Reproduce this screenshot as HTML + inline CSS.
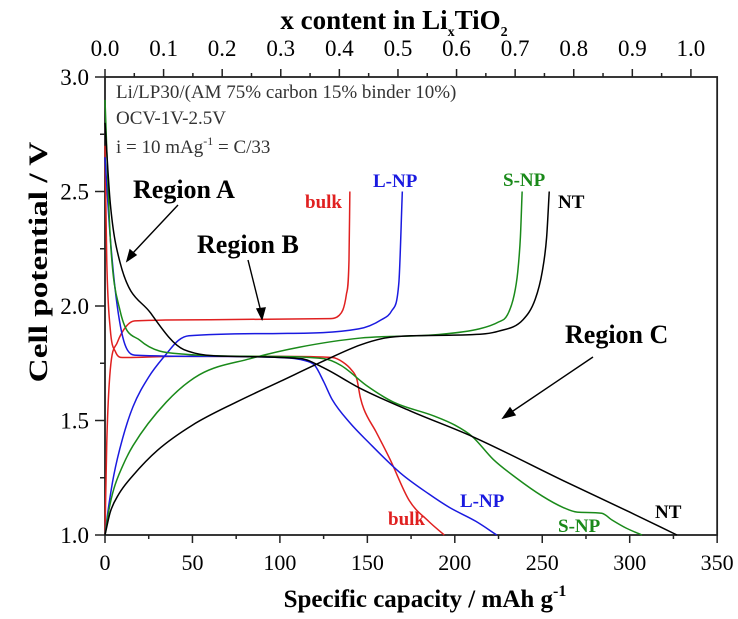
<!DOCTYPE html>
<html><head><meta charset="utf-8"><style>
body{margin:0;background:#fff}
svg{display:block;font-family:"Liberation Serif",serif}
</style></head><body>
<svg id="chart" width="738" height="619" viewBox="0 0 738 619">
<g id="axes"></g><g id="curves"></g>
<text x="394" y="29" text-anchor="middle" font-size="27" font-weight="bold">x content in Li<tspan font-size="14" dy="7">x</tspan><tspan dy="-7">TiO</tspan><tspan font-size="14" dy="7">2</tspan></text>
<text x="425" y="607" text-anchor="middle" font-size="25" font-weight="bold">Specific capacity / mAh g<tspan font-size="16" dy="-11">-1</tspan></text>
<text transform="translate(47,262) rotate(-90) scale(1.28,1)" text-anchor="middle" font-size="26" font-weight="bold">Cell potential / V</text>
<text x="116" y="98" font-size="19" fill="#333">Li/LP30/(AM 75% carbon 15% binder 10%)</text>
<text x="116" y="124" font-size="19" fill="#333">OCV-1V-2.5V</text>
<text x="116" y="153" font-size="19" fill="#333">i = 10 mAg<tspan font-size="12" dy="-8">-1</tspan><tspan dy="8"> = C/33</tspan></text>
<g font-size="26" font-weight="bold">
<text x="133" y="198">Region A</text>
<text x="197" y="253">Region B</text>
<text x="565" y="343">Region C</text>
</g>
<g stroke="#000" stroke-width="1.4" fill="#000">
<line x1="178" y1="205" x2="132" y2="254"/><polygon points="127,261 130,250 136,255"/>
<line x1="248" y1="260" x2="261" y2="312"/><polygon points="262,319 257,309 265,308"/>
<line x1="593" y1="357" x2="510" y2="413"/><polygon points="503,418 510,408 515,415"/>
</g>
<g font-size="19" font-weight="bold">
<text x="305" y="208" fill="#e02020">bulk</text>
<text x="373" y="187" fill="#1a1ae0">L-NP</text>
<text x="503" y="186" fill="#1a8a1a">S-NP</text>
<text x="558" y="208" fill="#000">NT</text>
<text x="388" y="525" fill="#e02020">bulk</text>
<text x="460" y="507" fill="#1a1ae0">L-NP</text>
<text x="558" y="532" fill="#1a8a1a">S-NP</text>
<text x="655" y="518" fill="#000">NT</text>
</g>
</svg>
<script>
const xTicks=[0,50,100,150,200,250,300,350];
const yTicks=[1.0,1.5,2.0,2.5,3.0];
const topTicks=[0,0.1,0.2,0.3,0.4,0.5,0.6,0.7,0.8,0.9,1.0];
const bulkDis=[[0,2.7],[1,2.2],[3,1.9],[6,1.8],[10,1.775],[40,1.78],[100,1.78],[130,1.775],[136,1.755],[141,1.72],[144,1.68],[146,1.6],[148,1.55],[155,1.45],[163,1.33],[174,1.15],[185,1.06],[194,1.0]];
const bulkCha=[[0,1.0],[1,1.4],[3,1.72],[7,1.84],[12,1.91],[17,1.935],[60,1.94],[128,1.945],[134,1.96],[138,2.05],[139.5,2.2],[140,2.5]];
const lnpDis=[[0,2.65],[3,2.3],[7,2.0],[12,1.82],[18,1.785],[60,1.78],[100,1.775],[115,1.76],[120,1.74],[125,1.67],[130,1.59],[140,1.49],[150,1.41],[169,1.27],[185,1.18],[197,1.12],[212,1.06],[224,1.0]];
const lnpCha=[[0,1.0],[2,1.12],[5,1.26],[10,1.42],[16,1.56],[25,1.69],[35,1.79],[42,1.85],[48,1.87],[100,1.88],[145,1.9],[158,1.94],[164,1.98],[168,2.1],[170,2.5]];
const snpDis=[[0,2.9],[3,2.3],[8.6,1.98],[20,1.85],[45,1.79],[90,1.78],[125,1.77],[135,1.74],[150,1.65],[165,1.58],[188,1.52],[200,1.48],[210,1.43],[222,1.33],[235,1.25],[250,1.17],[262,1.12],[270,1.1],[284,1.095],[290,1.065],[298,1.03],[307,1.0]];
const snpCha=[[0,1.0],[2,1.1],[5,1.2],[10,1.3],[16,1.39],[35,1.58],[54,1.7],[83,1.77],[111,1.82],[146,1.86],[190,1.875],[214,1.9],[225,1.93],[230,1.96],[234,2.05],[236,2.15],[237.5,2.3],[238.5,2.5]];
const ntDis=[[0,2.8],[3,2.45],[8.6,2.19],[26,1.97],[45,1.81],[73,1.78],[112,1.77],[125,1.73],[146,1.64],[175,1.54],[210,1.43],[264,1.23],[300,1.1],[327,1.0]];
const ntCha=[[0,1.0],[3,1.1],[8,1.18],[16,1.26],[30,1.37],[50,1.48],[75,1.58],[100,1.67],[125,1.76],[146,1.83],[160,1.86],[175,1.87],[210,1.875],[225,1.89],[239,1.94],[246,2.03],[250,2.15],[252.5,2.3],[254,2.5]];
const X0=105,PX=1.749,Y0=535,PY=229;
const sx=c=>X0+c*PX, sy=v=>Y0-(v-1)*PY;
const NS='http://www.w3.org/2000/svg';
const ax=document.getElementById('axes'), cv=document.getElementById('curves');
function mk(t,a,p){const e=document.createElementNS(NS,t);for(const k in a)e.setAttribute(k,a[k]);p.appendChild(e);return e;}
const frame=mk('rect',{x:sx(0),y:sy(3),width:sx(350)-sx(0),height:sy(1)-sy(3),fill:'none',stroke:'#222','stroke-width':1.8},ax);


for(let c=0;c<=350;c+=25){const L=c%50===0?8:4;
 mk('line',{x1:sx(c),x2:sx(c),y1:sy(1),y2:sy(1)+L,stroke:'#222','stroke-width':1.5},ax);}
xTicks.forEach(c=>{const t=mk('text',{x:sx(c),y:570,'text-anchor':'middle','font-size':22},ax);t.textContent=c;
 
 });
for(let v=1;v<=3.001;v+=0.25){const L=Math.abs(v*2-Math.round(v*2))<0.01?10:5;
 mk('line',{x1:sx(0),x2:sx(0)-L,y1:sy(v),y2:sy(v),stroke:'#222','stroke-width':1.5},ax);}
yTicks.forEach(v=>{const t=mk('text',{x:89,y:sy(v)+8,'text-anchor':'end','font-size':23},ax);t.textContent=v.toFixed(1);
 
 });
const sxTop=x=>X0+x*335*PX;
for(let i=0;i<=20;i++){const x=i*0.05;const L=i%2===0?8:4;
 mk('line',{x1:sxTop(x),x2:sxTop(x),y1:sy(3),y2:sy(3)-L,stroke:'#222','stroke-width':1.5},ax);}
topTicks.forEach(x=>{const t=mk('text',{x:sxTop(x),y:56,'text-anchor':'middle','font-size':23},ax);t.textContent=x.toFixed(1);
 
 });
function path(pts){
 const P=pts.map(p=>[sx(p[0]),sy(p[1])]);const n=P.length;
 const d=[],m=new Array(n);
 for(let i=0;i<n-1;i++)d.push((P[i+1][1]-P[i][1])/(P[i+1][0]-P[i][0]));
 m[0]=d[0];m[n-1]=d[n-2];
 for(let i=1;i<n-1;i++){m[i]=(d[i-1]*d[i]<=0)?0:(d[i-1]+d[i])/2;}
 for(let i=0;i<n-1;i++){if(d[i]===0){m[i]=0;m[i+1]=0;continue;}
  const a=m[i]/d[i],b=m[i+1]/d[i],s=a*a+b*b;if(s>9){const t=3/Math.sqrt(s);m[i]=t*a*d[i];m[i+1]=t*b*d[i];}}
 let s='M'+P[0][0]+','+P[0][1];
 for(let i=0;i<n-1;i++){const h=(P[i+1][0]-P[i][0])/3;
  s+=' C'+(P[i][0]+h)+','+(P[i][1]+m[i]*h)+' '+(P[i+1][0]-h)+','+(P[i+1][1]-m[i+1]*h)+' '+P[i+1][0]+','+P[i+1][1];}
 return s;}
const series=[[bulkDis,'#e02020','bulk-discharge-curve'],[bulkCha,'#e02020','bulk-charge-curve'],[lnpDis,'#1a1ae0','lnp-discharge-curve'],[lnpCha,'#1a1ae0','lnp-charge-curve'],[snpDis,'#1a8a1a','snp-discharge-curve'],[snpCha,'#1a8a1a','snp-charge-curve'],[ntDis,'#000','nt-discharge-curve'],[ntCha,'#000','nt-charge-curve']];
series.forEach(s=>{const p=mk('path',{d:path(s[0]),fill:'none',stroke:s[1],'stroke-width':1.5},cv);
 
 });
</script>
</body></html>
